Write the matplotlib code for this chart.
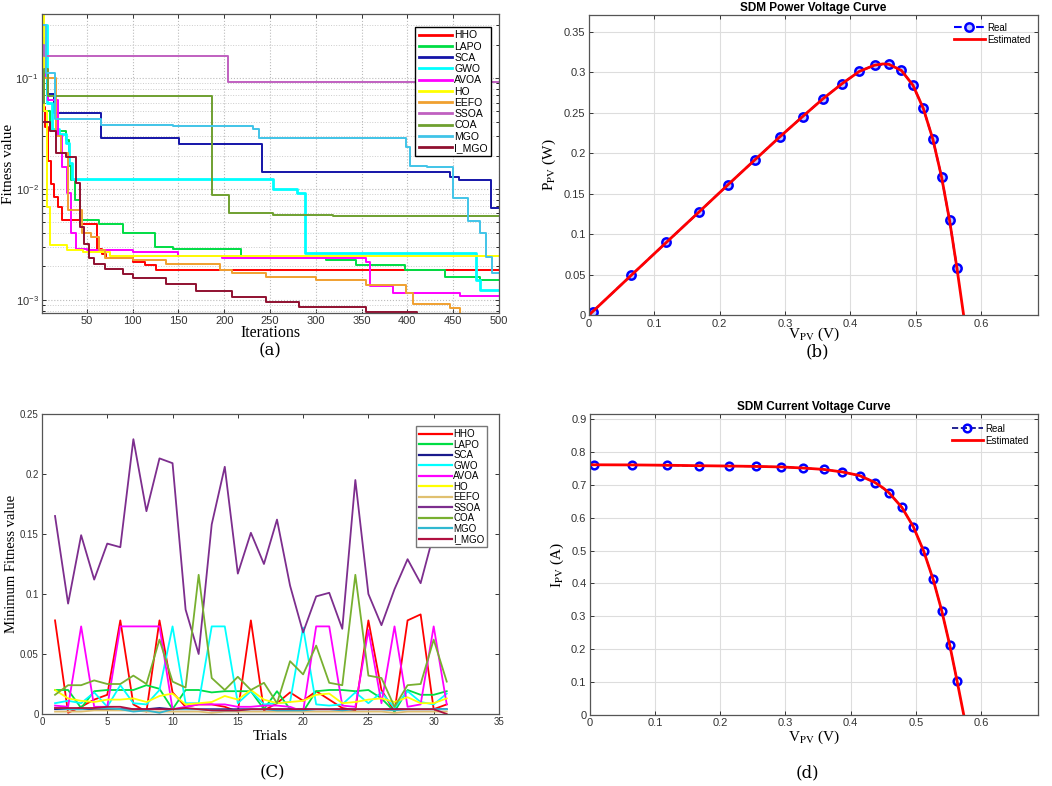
import numpy as np
import matplotlib
matplotlib.use("Agg")
import matplotlib.pyplot as plt
from matplotlib.ticker import FuncFormatter

plt.rcParams['mathtext.fontset'] = 'stix'

names = ['HHO', 'LAPO', 'SCA', 'GWO', 'AVOA', 'HO', 'EEFO', 'SSOA', 'COA', 'MGO', 'I_MGO']
colors_a = ['#ff0000', '#00dd44', '#1414a8', '#00ffff', '#ff00ff', '#ffff00',
            '#f0a030', '#c060c0', '#6fa030', '#40c4e8', '#901030']
colors_c = ['#ff0000', '#00dd44', '#1a1a8c', '#00ffff', '#ff00ff', '#ffff00',
            '#e0c070', '#7d2e8e', '#78b030', '#30b8d0', '#b01040']

# ---- (a) convergence curves: breakpoints (iteration, value)
HHO_it = [1, 4, 8, 11, 14, 18, 23, 42, 61, 66, 71, 100, 113, 125]
HHO_val = [0.055, 0.036, 0.018, 0.011, 0.0085, 0.0069, 0.0052, 0.0048, 0.0029, 0.0026, 0.0024, 0.0022, 0.00206, 0.00186]
LAPO_it = [1, 3, 10, 20, 27, 30, 33, 37, 42, 63, 89, 124, 144, 218, 311, 344, 397, 441, 479]
LAPO_val = [0.2, 0.05, 0.0338, 0.033, 0.0275, 0.016, 0.012, 0.008, 0.0052, 0.0048, 0.0040, 0.0030, 0.0029, 0.00238, 0.0023, 0.00205, 0.00186, 0.00162, 0.00151]
SCA_it = [1, 3, 6, 14, 65, 151, 241, 446, 456, 491]
SCA_val = [0.23, 0.11, 0.072, 0.0484, 0.0285, 0.0253, 0.01415, 0.01268, 0.0120, 0.00673]
GWO_it = [1, 6, 12, 20, 27, 31, 34, 253, 279, 288, 475, 479]
GWO_val = [0.3, 0.06, 0.035, 0.031, 0.026, 0.017, 0.01225, 0.0100, 0.0092, 0.00263, 0.00151, 0.00123]
AVOA_it = [1, 4, 8, 18, 23, 28, 33, 38, 50, 100, 150, 198, 355, 359, 384, 457]
AVOA_val = [0.15, 0.1, 0.063, 0.03, 0.0158, 0.0091, 0.0040, 0.0029, 0.0028, 0.0027, 0.0025, 0.0024, 0.0022, 0.00133, 0.00115, 0.00109]
HO_it = [1, 3, 6, 10, 28, 46, 75]
HO_val = [0.38, 0.05, 0.0069, 0.0031, 0.0028, 0.0027, 0.0025]
EEFO_it = [1, 10, 16, 22, 29, 45, 55, 63, 70, 100, 136, 195, 209, 246, 300, 355, 399, 406, 446, 457]
EEFO_val = [0.1, 0.1, 0.03, 0.0209, 0.0065, 0.0040, 0.0037, 0.0028, 0.00238, 0.0023, 0.0021, 0.00186, 0.00175, 0.00162, 0.0015, 0.00136, 0.00115, 0.00092, 0.00084, 0.00074]
SSOA_it = [1, 3, 204]
SSOA_val = [0.2, 0.158, 0.092]
COA_it = [1, 3, 8, 187, 205, 253, 319]
COA_val = [0.06, 0.12, 0.069, 0.0088, 0.0060, 0.0058, 0.0057]
MGO_it = [1, 5, 15, 65, 144, 231, 238, 399, 403, 421, 450, 466, 479, 486, 492]
MGO_val = [0.3, 0.11, 0.0425, 0.038, 0.0368, 0.035, 0.0285, 0.0239, 0.016, 0.0159, 0.0082, 0.0051, 0.0040, 0.00245, 0.00175]
IMGO_it = [1, 10, 16, 27, 38, 43, 47, 52, 58, 70, 89, 100, 136, 169, 209, 246, 282, 355, 410]
IMGO_val = [0.04, 0.033, 0.0209, 0.0195, 0.0112, 0.0045, 0.0032, 0.0024, 0.0021, 0.0019, 0.0017, 0.00157, 0.0014, 0.0012, 0.00107, 0.00096, 0.00086, 0.00078, 0.00075]

conv_its = [HHO_it, LAPO_it, SCA_it, GWO_it, AVOA_it, HO_it, EEFO_it, SSOA_it, COA_it, MGO_it, IMGO_it]
conv_vals = [HHO_val, LAPO_val, SCA_val, GWO_val, AVOA_val, HO_val, EEFO_val, SSOA_val, COA_val, MGO_val, IMGO_val]
max_iter = 500

# ---- (c) minimum fitness per trial
trials = list(range(1, 32))
HHO_c = [0.078, 0.001, 0.006, 0.012, 0.016, 0.078, 0.008, 0.002, 0.078, 0.018, 0.006, 0.008, 0.008, 0.006, 0.002, 0.078, 0.003, 0.009, 0.018, 0.011, 0.019, 0.012, 0.005, 0.003, 0.078, 0.020, 0.002, 0.078, 0.083, 0.004, 0.008]
LAPO_c = [0.020, 0.020, 0.005, 0.019, 0.020, 0.020, 0.020, 0.024, 0.021, 0.004, 0.020, 0.020, 0.018, 0.019, 0.019, 0.019, 0.004, 0.019, 0.004, 0.002, 0.019, 0.020, 0.020, 0.019, 0.020, 0.013, 0.002, 0.020, 0.016, 0.016, 0.019]
SCA_c = [0.004, 0.004, 0.004, 0.004, 0.004, 0.004, 0.004, 0.004, 0.005, 0.004, 0.004, 0.004, 0.004, 0.004, 0.004, 0.004, 0.004, 0.004, 0.004, 0.004, 0.004, 0.004, 0.004, 0.004, 0.004, 0.004, 0.004, 0.004, 0.004, 0.004, 0.004]
GWO_c = [0.009, 0.011, 0.009, 0.018, 0.006, 0.024, 0.009, 0.008, 0.020, 0.073, 0.009, 0.009, 0.073, 0.073, 0.009, 0.019, 0.008, 0.009, 0.010, 0.072, 0.008, 0.007, 0.008, 0.018, 0.009, 0.018, 0.005, 0.019, 0.010, 0.008, 0.017]
AVOA_c = [0.007, 0.006, 0.073, 0.006, 0.006, 0.073, 0.073, 0.073, 0.073, 0.004, 0.006, 0.008, 0.008, 0.008, 0.006, 0.006, 0.007, 0.007, 0.006, 0.002, 0.073, 0.073, 0.007, 0.006, 0.070, 0.009, 0.073, 0.006, 0.008, 0.073, 0.008]
HO_c = [0.020, 0.013, 0.011, 0.010, 0.012, 0.012, 0.013, 0.010, 0.015, 0.017, 0.008, 0.009, 0.010, 0.015, 0.012, 0.020, 0.012, 0.009, 0.010, 0.011, 0.016, 0.017, 0.009, 0.010, 0.012, 0.013, 0.010, 0.014, 0.009, 0.009, 0.013]
EEFO_c = [0.002, 0.002, 0.002, 0.003, 0.003, 0.003, 0.003, 0.002, 0.002, 0.002, 0.002, 0.002, 0.001, 0.002, 0.002, 0.002, 0.002, 0.002, 0.002, 0.002, 0.002, 0.002, 0.002, 0.002, 0.002, 0.002, 0.001, 0.002, 0.002, 0.002, 0.002]
SSOA_c = [0.165, 0.092, 0.149, 0.112, 0.142, 0.139, 0.229, 0.169, 0.213, 0.209, 0.087, 0.050, 0.158, 0.206, 0.117, 0.151, 0.125, 0.162, 0.107, 0.068, 0.098, 0.101, 0.071, 0.195, 0.100, 0.074, 0.104, 0.129, 0.109, 0.150, 0.178]
COA_c = [0.016, 0.024, 0.024, 0.028, 0.025, 0.025, 0.032, 0.025, 0.062, 0.027, 0.022, 0.116, 0.030, 0.020, 0.031, 0.020, 0.026, 0.009, 0.044, 0.033, 0.057, 0.026, 0.024, 0.116, 0.032, 0.030, 0.006, 0.024, 0.025, 0.062, 0.027]
MGO_c = [0.005, 0.004, 0.004, 0.005, 0.005, 0.004, 0.002, 0.003, 0.001, 0.004, 0.004, 0.004, 0.003, 0.003, 0.003, 0.004, 0.004, 0.003, 0.003, 0.003, 0.004, 0.004, 0.003, 0.004, 0.004, 0.004, 0.003, 0.004, 0.004, 0.004, 0.004]
IMGO_c = [0.005, 0.005, 0.005, 0.005, 0.006, 0.006, 0.004, 0.004, 0.004, 0.004, 0.005, 0.004, 0.003, 0.003, 0.003, 0.004, 0.004, 0.004, 0.004, 0.004, 0.004, 0.004, 0.004, 0.004, 0.004, 0.004, 0.004, 0.004, 0.004, 0.004, 0.000]
trial_vals = [HHO_c, LAPO_c, SCA_c, GWO_c, AVOA_c, HO_c, EEFO_c, SSOA_c, COA_c, MGO_c, IMGO_c]

# ---- (b),(d) PV data
V_real = [0.0057, 0.0646, 0.1185, 0.1678, 0.2132, 0.2545, 0.2924, 0.3269, 0.3585, 0.3873,
          0.4137, 0.4373, 0.4590, 0.4784, 0.4960, 0.5119, 0.5265, 0.5398, 0.5521, 0.5633]
I_real = [0.7605, 0.7600, 0.7590, 0.7570, 0.7570, 0.7555, 0.7540, 0.7505, 0.7465, 0.7385,
          0.7280, 0.7065, 0.6755, 0.6320, 0.5730, 0.4990, 0.4130, 0.3165, 0.2120, 0.1035]
P_real = [0.0043, 0.0491, 0.0899, 0.1270, 0.1614, 0.1923, 0.2205, 0.2453, 0.2676, 0.2860,
          0.3012, 0.3090, 0.3101, 0.3024, 0.2842, 0.2554, 0.2174, 0.1708, 0.1170, 0.0583]
V_est = [0.0, 0.0057, 0.0646, 0.1185, 0.1678, 0.2132, 0.2545, 0.2924, 0.3269, 0.3585, 0.3873,
         0.4137, 0.4373, 0.4500, 0.4590, 0.4784, 0.4960, 0.5119, 0.5265, 0.5398, 0.5521, 0.5633, 0.5736]
I_est = [0.7608, 0.7606, 0.7602, 0.7592, 0.7578, 0.7568, 0.7557, 0.7541, 0.7508, 0.7465, 0.7388,
         0.7278, 0.7069, 0.6900, 0.6752, 0.6317, 0.5732, 0.4991, 0.4128, 0.3167, 0.2121, 0.1035, 0.0]
P_est = [0.0, 0.0043, 0.0491, 0.0899, 0.1270, 0.1614, 0.1923, 0.2205, 0.2453, 0.2676, 0.2860,
         0.3012, 0.3090, 0.3105, 0.3101, 0.3024, 0.2842, 0.2554, 0.2174, 0.1708, 0.1170, 0.0583, 0.0]

serif = ['Liberation Serif', 'DejaVu Serif']
sans = ['Liberation Sans', 'DejaVu Sans']

fig = plt.figure(figsize=(10.52, 7.86), dpi=100)

def matlab_ticks(ax, size=8):
    ax.tick_params(direction='in', top=True, right=True, length=3, width=0.7,
                   labelsize=size, colors='#333333', pad=2.5)
    ax.tick_params(which='minor', direction='in', top=True, right=True, length=2)
    for s in ax.spines.values():
        s.set_color('#555555')
        s.set_linewidth(0.9)
    for lab in ax.get_xticklabels() + ax.get_yticklabels():
        lab.set_family(sans)

gfmt = FuncFormatter(lambda v, p: ('%g' % round(v, 4)))

# (a)
ax1 = fig.add_axes([0.0399, 0.6018, 0.4344, 0.3804])
for i, name in enumerate(names):
    its = conv_its[i] + [max_iter]
    vals = conv_vals[i] + [conv_vals[i][-1]]
    lw = 2.0 if name == 'GWO' else 1.4
    ax1.plot(its, vals, drawstyle='steps-post', color=colors_a[i], lw=lw, label=name)
ax1.set_yscale('log')
ax1.set_xlim(1, 500)
ax1.set_ylim(7.6e-4, 0.378)
ax1.set_xticks([50, 100, 150, 200, 250, 300, 350, 400, 450, 500])
ax1.grid(True, which='major', color='#bbbbbb', ls=':', lw=0.8)
ax1.grid(True, which='minor', axis='y', color='#cccccc', ls=':', lw=0.7)
matlab_ticks(ax1, 8)
ax1.set_xlabel('Iterations', family=serif, fontsize=11.5, labelpad=-1)
ax1.set_ylabel('Fitness value', family=serif, fontsize=11, labelpad=0)
leg = ax1.legend(loc='upper right', bbox_to_anchor=(0.995, 0.975), handlelength=3.2,
                 labelspacing=0.12, borderpad=0.35, handletextpad=0.2, fancybox=False,
                 framealpha=1, edgecolor='black', prop={'family': sans, 'size': 7.5})
for l in leg.get_lines():
    l.set_linewidth(2)

# (b)
ax2 = fig.add_axes([0.5599, 0.5992, 0.4268, 0.3817])
ax2.plot(V_real, P_real, ls='--', color='blue', lw=1.5, marker='o', ms=6,
         mfc='#c0c8ff', mec='blue', mew=1.8, label='Real')
ax2.plot(V_est, P_est, color='red', lw=2.0, label='Estimated')
ax2.set_xlim(0, 0.6875)
ax2.set_ylim(0, 0.371)
ax2.set_xticks(np.arange(0, 0.61, 0.1))
ax2.set_yticks(np.arange(0, 0.351, 0.05))
ax2.xaxis.set_major_formatter(gfmt)
ax2.yaxis.set_major_formatter(gfmt)
ax2.grid(True, color='#dddddd', lw=0.8)
matlab_ticks(ax2, 8)
ax2.set_title('SDM Power Voltage Curve', fontsize=8.5, fontweight='bold', family=sans, pad=3)
ax2.set_xlabel(r'V$_{\mathrm{PV}}$ (V)', family=serif, fontsize=11, labelpad=-2)
ax2.set_ylabel(r'P$_{\mathrm{PV}}$ (W)', family=serif, fontsize=11, labelpad=4)
ax2.legend(loc='upper right', frameon=False, handlelength=3.2,
           labelspacing=0.2, handletextpad=0.2, borderaxespad=0.4, prop={'family': sans, 'size': 7})

# (c)
ax3 = fig.add_axes([0.0399, 0.0916, 0.4344, 0.3817])
for i, name in enumerate(names):
    ax3.plot(trials, trial_vals[i], color=colors_c[i], lw=1.3, label=name)
ax3.set_xlim(0, 35)
ax3.set_ylim(0, 0.25)
ax3.set_xticks(range(0, 36, 5))
ax3.set_yticks(np.arange(0, 0.251, 0.05))
ax3.yaxis.set_major_formatter(gfmt)
matlab_ticks(ax3, 7)
ax3.set_xlabel('Trials', family=serif, fontsize=11, labelpad=2)
ax3.set_ylabel('Minimum Fitness value', family=serif, fontsize=10.5, labelpad=1)
leg3 = ax3.legend(loc='upper right', bbox_to_anchor=(0.985, 0.975), handlelength=3.4,
                  labelspacing=0.05, borderpad=0.3, handletextpad=0.1, fancybox=False,
                  framealpha=1, edgecolor='#777777', prop={'family': sans, 'size': 7})
for l in leg3.get_lines():
    l.set_linewidth(1.6)

# (d)
ax4 = fig.add_axes([0.5608, 0.0903, 0.4259, 0.3830])
ax4.plot(V_real, I_real, ls='--', color='#000080', lw=1.2, marker='o', ms=5.5,
         mfc='none', mec='blue', mew=1.8, label='Real')
ax4.plot(V_est, I_est, color='red', lw=2.0, label='Estimated')
ax4.set_xlim(0, 0.6875)
ax4.set_ylim(0, 0.915)
ax4.set_xticks(np.arange(0, 0.61, 0.1))
ax4.set_yticks(np.arange(0, 0.91, 0.1))
ax4.xaxis.set_major_formatter(gfmt)
ax4.yaxis.set_major_formatter(gfmt)
ax4.grid(True, color='#dddddd', lw=0.8)
matlab_ticks(ax4, 8)
ax4.set_title('SDM Current Voltage Curve', fontsize=8.5, fontweight='bold', family=sans, pad=3)
ax4.set_xlabel(r'V$_{\mathrm{PV}}$ (V)', family=serif, fontsize=11, labelpad=0)
ax4.set_ylabel(r'I$_{\mathrm{PV}}$ (A)', family=serif, fontsize=11, labelpad=4)
ax4.legend(loc='upper right', frameon=False, handlelength=3.2,
           labelspacing=0.2, handletextpad=0.2, borderaxespad=0.6, prop={'family': sans, 'size': 7})

# captions
for x, y, t in [(270, 351, '(a)'), (817, 352, '(b)'), (272, 773, '(C)'), (807, 773, '(d)')]:
    fig.text(x / 1052, 1 - y / 786, t, ha='center', va='center', family=['DejaVu Serif'], fontsize=12)

fig.savefig('out.png', dpi=100)
